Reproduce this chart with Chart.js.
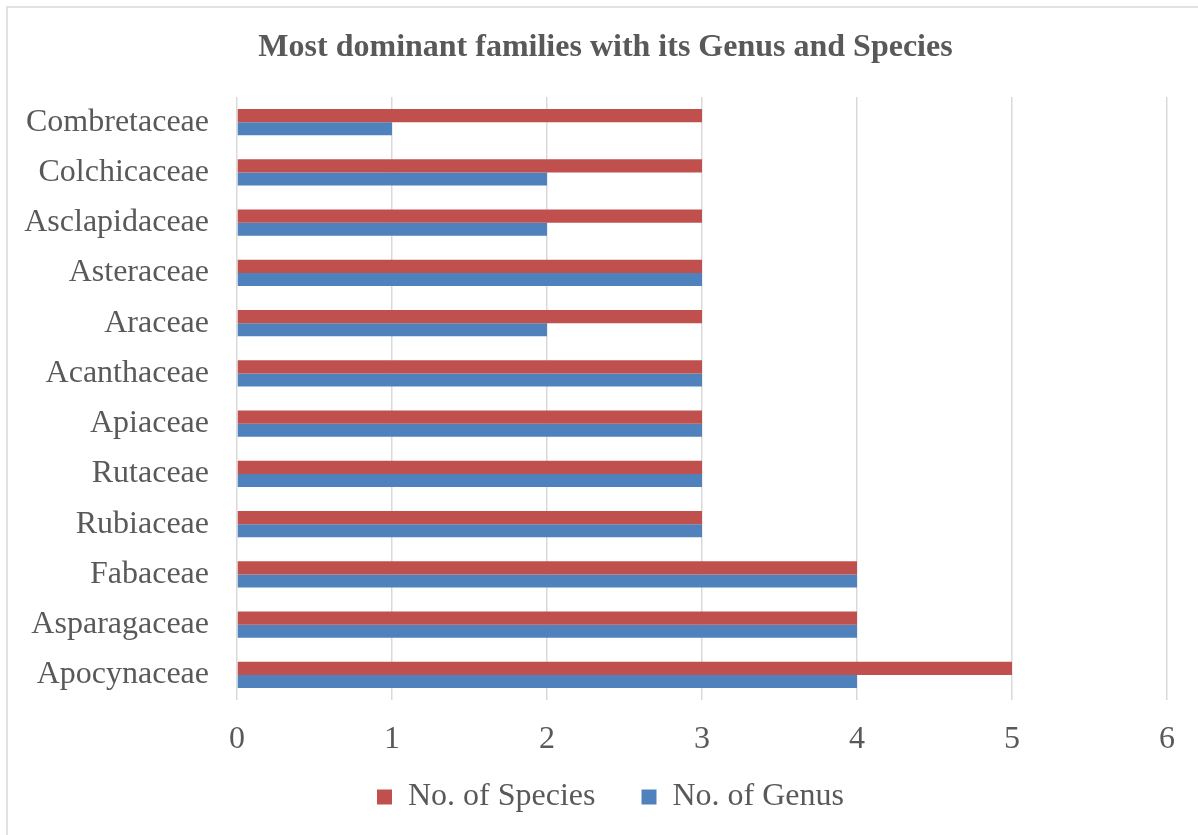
<!DOCTYPE html>
<html>
<head>
<meta charset="utf-8">
<script src="https://cdn.jsdelivr.net/npm/chart.js@4/dist/chart.umd.min.js"></script>
<style>
  html, body { margin: 0; padding: 0; background: #fff; }
  #wrap { position: relative; width: 1198px; height: 835px; }
</style>
</head>
<body>
<div id="wrap"><canvas id="c" width="1198" height="835"></canvas></div>
<script>
// Families listed top to bottom
const families = [
  'Combretaceae', 'Colchicaceae', 'Asclapidaceae', 'Asteraceae', 'Araceae',
  'Acanthaceae', 'Apiaceae', 'Rutaceae', 'Rubiaceae', 'Fabaceae',
  'Asparagaceae', 'Apocynaceae'
];
const speciesCounts = [3, 3, 3, 3, 3, 3, 3, 3, 3, 4, 4, 5];
const genusCounts   = [1, 2, 2, 3, 2, 3, 3, 3, 3, 4, 4, 4];
const xTicks = [0, 1, 2, 3, 4, 5, 6];

const TEXT = '#595959';
const GRID = '#d9d9d9';
const FONT = "'Liberation Serif', 'Times New Roman', serif";
const LEGEND_PAD = 46;    // horizontal gap between legend items
const LEGEND_TRIM = 25;   // vertical space removed above the legend row
const TITLE_SHIFT = 22;   // title sits a little right of the canvas centre
const LEGEND_SHIFT = 27;  // legend row likewise

// Thin grey frame; its right and bottom edges fall outside the canvas
const framePlugin = {
  id: 'frame',
  beforeDraw(chart) {
    const ctx = chart.ctx;
    ctx.save();
    ctx.fillStyle = '#fff';
    ctx.fillRect(0, 0, chart.width, chart.height);
    ctx.strokeStyle = GRID;
    ctx.lineWidth = 1.5;
    ctx.strokeRect(7, 7, chart.width + 10, chart.height + 10);
    ctx.restore();
  }
};

// Keep the wide horizontal legend spacing without the matching tall legend box,
// and nudge the title and legend boxes sideways
const boxTweakPlugin = {
  id: 'boxTweak',
  beforeLayout(chart) {
    const lg = chart.legend;
    if (lg && !lg._trimPatched) {
      const fit = lg.fit;
      lg.fit = function () { fit.call(this); this.height -= LEGEND_TRIM; };
      lg._trimPatched = true;
    }
  },
  afterLayout(chart) {
    const lg = chart.legend;
    if (lg) {
      lg.top -= LEGEND_TRIM;
      lg.height += LEGEND_TRIM;
      lg.left += LEGEND_SHIFT;
      lg.right += LEGEND_SHIFT;
    }
    const tb = chart.titleBlock;
    if (tb) {
      tb.left += TITLE_SHIFT;
      tb.right += TITLE_SHIFT;
      tb.top += 1;
      tb.bottom += 1;
    }
  }
};

new Chart(document.getElementById('c'), {
  type: 'bar',
  data: {
    labels: families,
    datasets: [
      { label: 'No. of Species', data: speciesCounts, backgroundColor: '#c0504d' },
      { label: 'No. of Genus', data: genusCounts, backgroundColor: '#4f81bd' }
    ]
  },
  options: {
    indexAxis: 'y',
    responsive: false,
    animation: false,
    devicePixelRatio: 1,
    categoryPercentage: 0.52,
    barPercentage: 1,
    layout: { padding: { left: 0, right: 31, top: 0, bottom: 12 } },
    plugins: {
      title: {
        display: true,
        text: 'Most dominant families with its Genus and Species',
        color: TEXT,
        font: { family: FONT, size: 32, weight: 'bold' },
        padding: { top: 28, bottom: 30.6 }
      },
      legend: {
        position: 'bottom',
        labels: {
          color: TEXT,
          font: { family: FONT, size: 32 },
          boxWidth: 15,
          boxHeight: 15,
          padding: LEGEND_PAD
        }
      },
      tooltip: { enabled: false }
    },
    scales: {
      x: {
        min: 0,
        max: 6,
        afterBuildTicks(scale) { scale.ticks = xTicks.map(v => ({ value: v })); },
        afterFit(scale) { scale.height = 60; },
        grid: { color: GRID, lineWidth: 1.5, drawTicks: false },
        border: { display: false },
        ticks: { color: TEXT, font: { family: FONT, size: 32 }, padding: 20 }
      },
      y: {
        afterFit(scale) { scale.width = 237; },
        grid: { display: false, drawTicks: false },
        border: { display: false },
        ticks: { color: TEXT, font: { family: FONT, size: 32 }, padding: 28 }
      }
    }
  },
  plugins: [framePlugin, boxTweakPlugin]
});
</script>
</body>
</html>
